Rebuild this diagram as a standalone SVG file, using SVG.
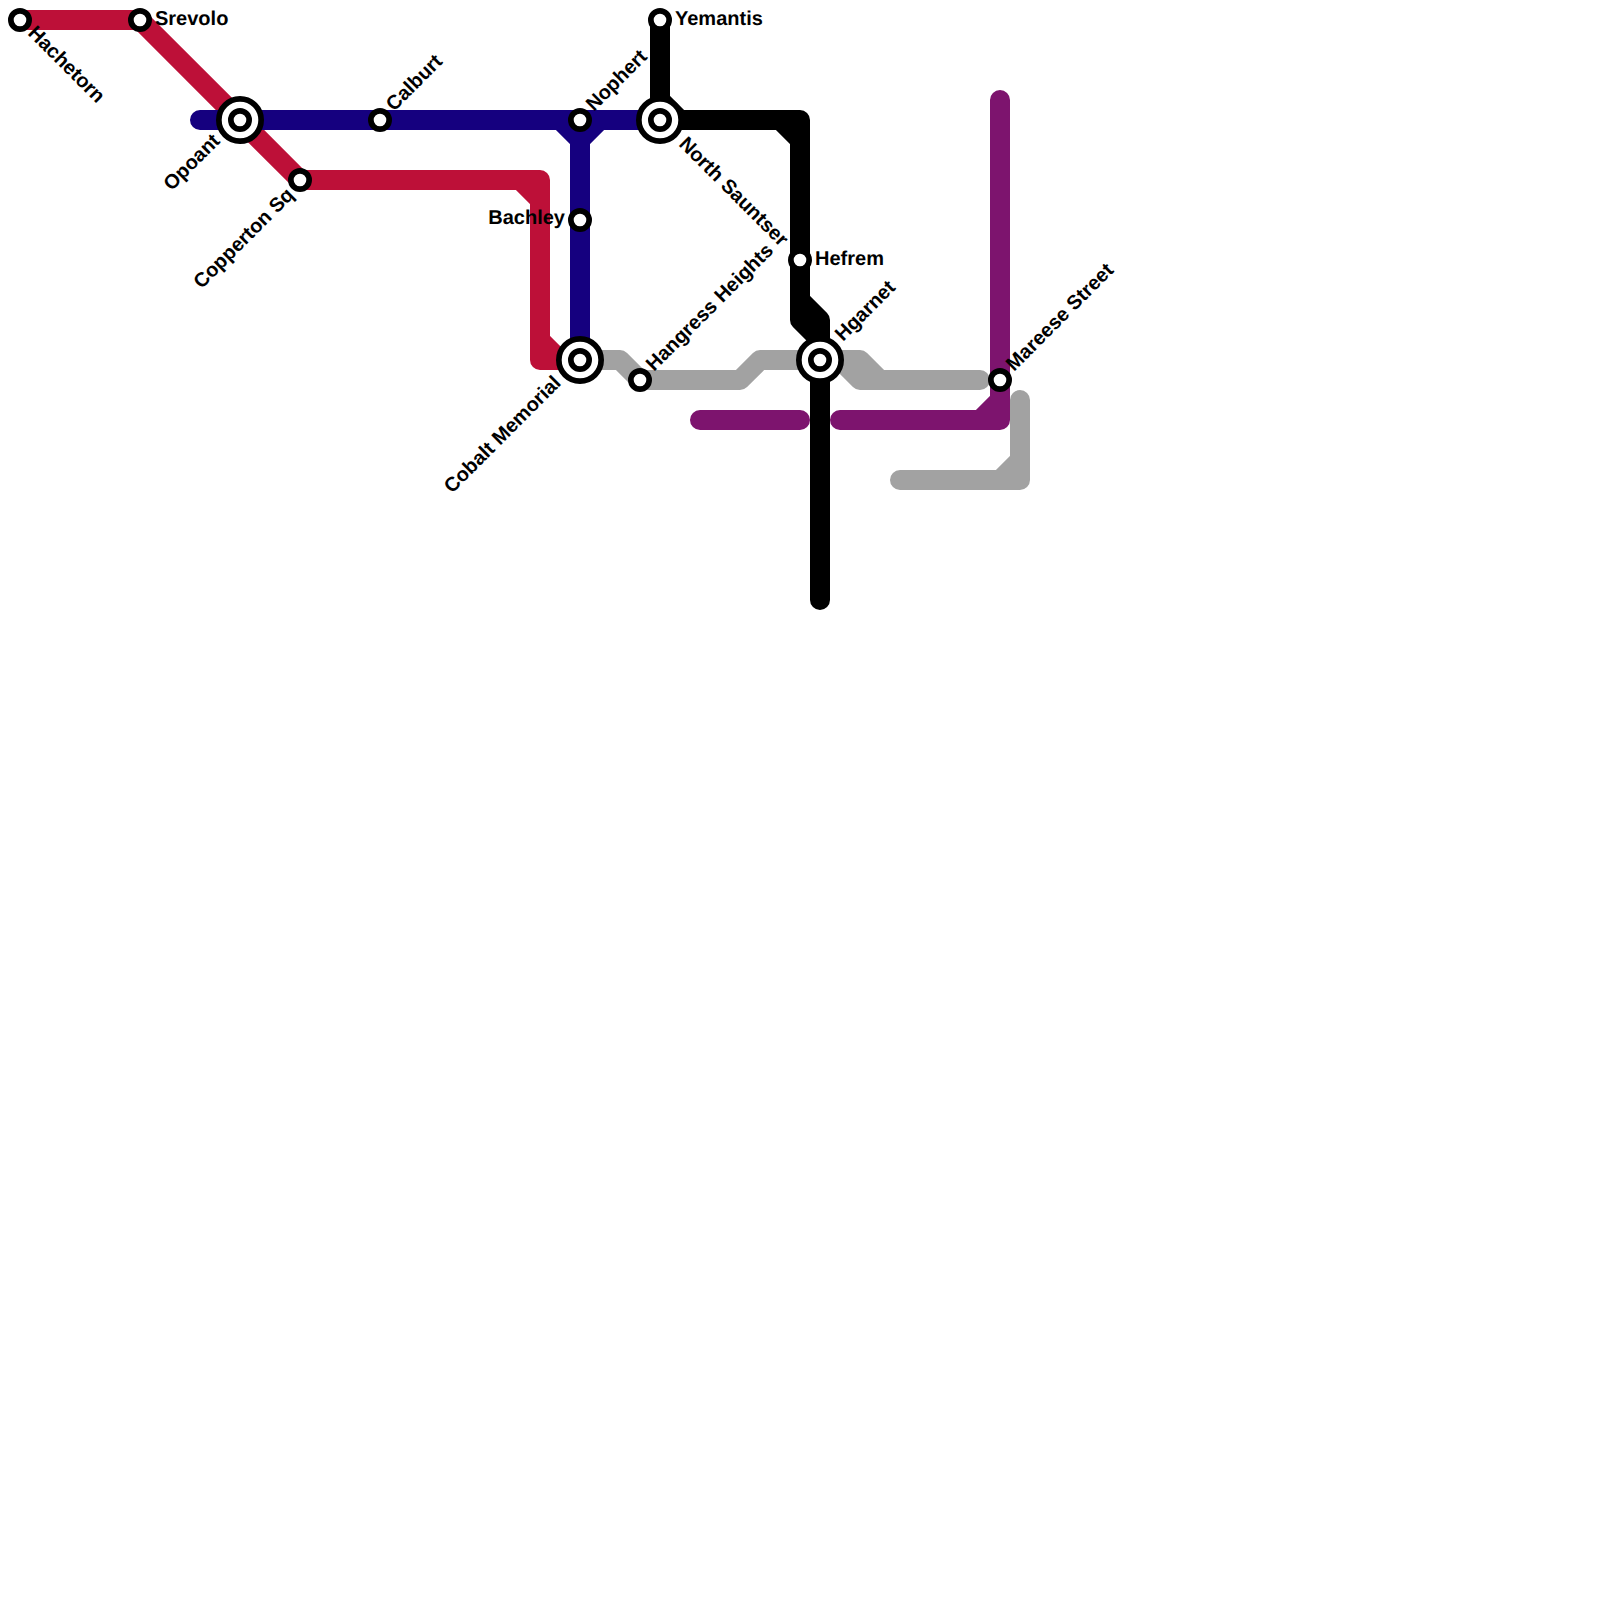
<svg xmlns="http://www.w3.org/2000/svg" width="1600" height="1600" viewBox="0 0 1600 1600">
<style>
.l{fill:none;stroke-width:20;stroke-linecap:round;stroke-linejoin:round}
.red{stroke:#bd1038}.blue{stroke:#15007f}.black{stroke:#000}.gray{stroke:#a2a2a2}.purple{stroke:#7d146e}
.s{fill:#fff;stroke:#000;stroke-width:5.7}
text{font-family:"Liberation Sans",Arial,sans-serif;font-weight:bold;font-size:20px;fill:#000;text-rendering:geometricPrecision}
.e{text-anchor:end}
</style>
<rect width="1600" height="1600" fill="#fff"/>
<g id="connectors">
<path class="l gray" d="M580 360H620L640 380H740L760 360H860L880 380H980M840 360L860 380H880"/>
<path class="l gray" d="M900 480H1020V400M1000 480L1020 460"/>
<path class="l purple" d="M1000 100V420H840M980 420L1000 400M700 420H800"/>
<path class="l red" d="M20 20H140L300 180H540V360H580M520 180L540 200M540 340L560 360"/>
<path class="l blue" d="M200 120H660M580 120V360M560 120L580 140M600 120L580 140"/>
<path class="l black" d="M660 20V120H800V320L820 340V600M660 100L680 120M780 120L800 140M800 300L820 320V340"/>
</g>
<g id="hachetorn"><circle class="s" cx="20" cy="20" r="9.15"/><text transform="translate(27 34) rotate(45)">Hachetorn</text></g>
<g id="srevolo"><circle class="s" cx="140" cy="20" r="9.15"/><text x="155" y="25">Srevolo</text></g>
<g id="opoant"><circle class="s" cx="240" cy="120" r="21.15"/><circle class="s" cx="240" cy="120" r="9.15"/><text class="e" transform="translate(221 142) rotate(-45)">Opoant</text></g>
<g id="copperton-sq"><circle class="s" cx="300" cy="180" r="9.15"/><text class="e" transform="translate(295 196) rotate(-45)">Copperton Sq</text></g>
<g id="calburt"><circle class="s" cx="380" cy="120" r="9.15"/><text transform="translate(394 112) rotate(-45)">Calburt</text></g>
<g id="nophert"><circle class="s" cx="580" cy="120" r="9.15"/><text transform="translate(594 112) rotate(-45)">Nophert</text></g>
<g id="bachley"><circle class="s" cx="580" cy="220" r="9.15"/><text class="e" x="565" y="224">Bachley</text></g>
<g id="cobalt-memorial"><circle class="s" cx="580" cy="360" r="21.15"/><circle class="s" cx="580" cy="360" r="9.15"/><text class="e" transform="translate(562 384) rotate(-45)">Cobalt Memorial</text></g>
<g id="hangress-heights"><circle class="s" cx="640" cy="380" r="9.15"/><text transform="translate(654 372) rotate(-45)">Hangress Heights</text></g>
<g id="north-sauntser"><circle class="s" cx="660" cy="120" r="21.15"/><circle class="s" cx="660" cy="120" r="9.15"/><text transform="translate(678 145) rotate(45)">North Sauntser</text></g>
<g id="yemantis"><circle class="s" cx="660" cy="20" r="9.15"/><text x="675" y="25">Yemantis</text></g>
<g id="hefrem"><circle class="s" cx="800" cy="260" r="9.15"/><text x="815" y="265">Hefrem</text></g>
<g id="hgarnet"><circle class="s" cx="820" cy="360" r="21.15"/><circle class="s" cx="820" cy="360" r="9.15"/><text transform="translate(843 342) rotate(-45)">Hgarnet</text></g>
<g id="mareese-street"><circle class="s" cx="1000" cy="380" r="9.15"/><text transform="translate(1014 372) rotate(-45)">Mareese Street</text></g>
</svg>
